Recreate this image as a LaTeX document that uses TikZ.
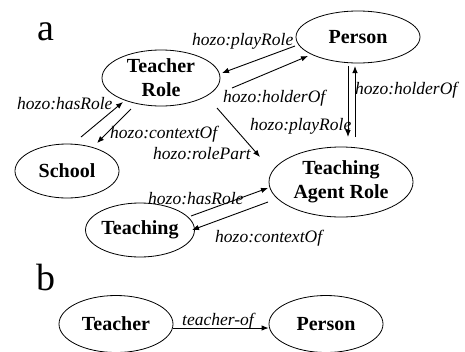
\documentclass[tikz,border=0pt]{standalone}
\usepackage{fontspec}
\setmainfont{Liberation Serif}
\newfontfamily\tnr{Liberation Serif}
\usetikzlibrary{arrows.meta,shapes.geometric}
\begin{document}
\begin{tikzpicture}[x=1pt,y=-1pt,
  ent/.style={ellipse,draw,line width=0.8pt,inner sep=0pt,align=center,
    font=\tnr\bfseries\fontsize{20}{24}\selectfont},
  lbl/.style={anchor=base west,inner sep=0pt,font=\tnr\itshape\fontsize{17.5}{20}\selectfont},
  rel/.style={line width=0.9pt,-{Latex[length=7pt,width=5.5pt]}},
  big/.style={anchor=base west,inner sep=0pt,font=\tnr\fontsize{38}{40}\selectfont}]
\useasboundingbox (0,0) rectangle (465,351);
% panel letters
\node[big] (la) at (37,40) {a};
\node[big] (lb) at (36,290) {b};
% entities
\node[ent,minimum width=118pt,minimum height=56pt] (TR) at (161,78) {Teacher\\Role};
\node[ent,minimum width=124pt,minimum height=52pt] (P) at (358,37) {Person};
\node[ent,minimum width=104pt,minimum height=54pt] (S) at (67,171) {School};
\node[ent,minimum width=104pt,minimum height=54pt] (T) at (140,230) {Teaching};
\node[ent,minimum width=144pt,minimum height=70pt] (TAR) at (341,182) {Teaching\\Agent Role};
\node[ent,minimum width=114pt,minimum height=57pt] (Tb) at (116,324) {Teacher};
\node[ent,minimum width=114pt,minimum height=57pt] (Pb) at (326,324) {Person};
% connector end points, placed relative to the nodes
\coordinate (p1s) at ([shift={(-63,9)}]P.center);
\coordinate (p1e) at ([shift={(61,-5)}]TR.center);
\coordinate (h1s) at ([shift={(71,10)}]TR.center);
\coordinate (h1e) at ([shift={(-50,19)}]P.center);
\coordinate (p2s) at ([shift={(-10,29)}]P.center);
\coordinate (p2e) at ([shift={(7,-45)}]TAR.center);
\coordinate (h2s) at ([shift={(14,-45)}]TAR.center);
\coordinate (h2e) at ([shift={(-3,29)}]P.center);
\coordinate (rps) at ([shift={(56,30)}]TR.center);
\coordinate (rpe) at ([shift={(-81,-25)}]TAR.center);
\coordinate (hrs) at ([shift={(14,-34)}]S.center);
\coordinate (hre) at ([shift={(-38,24)}]TR.center);
\coordinate (cos) at ([shift={(-30,31)}]TR.center);
\coordinate (coe) at ([shift={(30,-28)}]S.center);
\coordinate (hr2s) at ([shift={(51,-14)}]T.center);
\coordinate (hr2e) at ([shift={(-73,6)}]TAR.center);
\coordinate (co2s) at ([shift={(-73,20)}]TAR.center);
\coordinate (co2e) at ([shift={(52,0)}]T.center);
% connectors
\draw[rel] (p1s) -- (p1e);
\draw[rel] (h1s) -- (h1e);
\draw[rel] (p2s) -- (p2e);
\draw[rel] (h2s) -- (h2e);
\draw[rel] (rps) -- (rpe);
\draw[rel] (hrs) -- (hre);
\draw[rel] (cos) -- (coe);
\draw[rel] (hr2s) -- (hr2e);
\draw[rel] (co2s) -- (co2e);
\draw[rel] ([yshift=-4pt]Tb.east) -- ([yshift=-4pt]Pb.west);
% labels
\node[lbl] (l1) at (192,45) {hozo:playRole};
\node[lbl] (l2) at (223,102) {hozo:holderOf};
\node[lbl] (l3) at (355,94) {hozo:holderOf};
\node[lbl] (l4) at (250,130) {hozo:playRole};
\node[lbl] (l5) at (153,159) {hozo:rolePart};
\node[lbl] (l6) at (17,109) {hozo:hasRole};
\node[lbl] (l7) at (110,138) {hozo:contextOf};
\node[lbl] (l8) at (148,204) {hozo:hasRole};
\node[lbl] (l9) at (215,242) {hozo:contextOf};
\node[lbl] (l10) at (182,325) {teacher-of};
\end{tikzpicture}
\end{document}
